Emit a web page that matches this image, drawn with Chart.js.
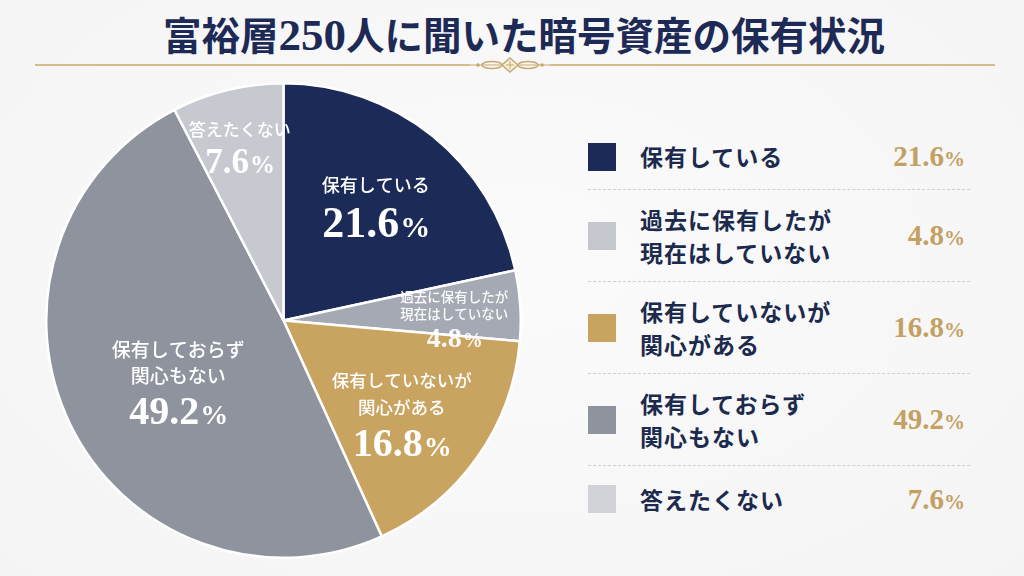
<!DOCTYPE html>
<html lang="ja">
<head>
<meta charset="utf-8">
<script src="https://cdn.jsdelivr.net/npm/chart.js@4"></script>
<style>
  html, body { margin: 0; padding: 0; }
  body {
    width: 1024px; height: 576px; overflow: hidden; position: relative;
    background: radial-gradient(ellipse at 50% 45%, #fbfbfb 0%, #f4f4f5 100%);
    font-family: "Noto Sans CJK JP", sans-serif;
  }
  #title {
    position: absolute; left: 12px; top: 8px; width: 1024px; text-align: center;
    font-size: 38.5px; font-weight: 700; color: #1c2a55; line-height: 50px;
  }
  #title .num { font-family: "Liberation Serif", serif; font-size: 45px; }
  #ornament { position: absolute; left: 0; top: 54px; }
  #pieBox { position: absolute; left: 45px; top: 82px; width: 477px; height: 477px; }
  #legend { position: absolute; left: 588px; top: 124px; width: 382px; }
  .row { display: flex; align-items: center; border-bottom: 1px dashed #cfcfd2; box-sizing: border-box; }
  .row:last-child { border-bottom: none; }
  .sw { width: 28px; height: 28px; flex: none; margin-right: 24px; }
  .lab { flex: 1; font-size: 23px; font-weight: 700; color: #1c2a4e; line-height: 33px; letter-spacing: 1px; }
  .val { font-family: "Liberation Serif", serif; font-weight: 700; color: #c4a062; font-size: 29px; margin-right: 5px; }
  .val small { font-size: 21px; }
</style>
</head>
<body>
<div id="title">富裕層<span class="num">250</span>人に聞いた暗号資産の保有状況</div>
<svg id="ornament" width="1024" height="22">
  <g stroke="#c9a86a" fill="none" stroke-width="1.5">
    <line x1="35" y1="11" x2="470" y2="11"/>
    <line x1="550" y1="11" x2="995" y2="11"/>
    <line x1="470" y1="11" x2="550" y2="11" stroke-width="1"/>
    <ellipse cx="492" cy="11" rx="10" ry="3.5"/>
    <ellipse cx="528" cy="11" rx="10" ry="3.5"/>
    <path d="M510 4 L518 11 L510 18 L502 11 Z" fill="#f6f0e2"/>
    <line x1="510" y1="7" x2="510" y2="15" stroke-width="1"/>
    <line x1="506" y1="11" x2="514" y2="11" stroke-width="1"/>
  </g>
  <circle cx="478" cy="11" r="1.8" fill="#c9a86a"/>
  <circle cx="542" cy="11" r="1.8" fill="#c9a86a"/>
</svg>
<div id="pieBox"><canvas id="myChart"></canvas></div>
<div id="legend"></div>
<script>
// data
var categories = [
  ['保有している'],
  ['過去に保有したが', '現在はしていない'],
  ['保有していないが', '関心がある'],
  ['保有しておらず', '関心もない'],
  ['答えたくない']
];
var shares = [21.6, 4.8, 16.8, 49.2, 7.6];

var sliceColors = ['#1b2a57', '#a4a9b3', '#c9a461', '#8e939e', '#c6c9cf'];
var swatchColors = ['#1b2a57', '#c4c7cd', '#c9a461', '#8e939e', '#d0d2d7'];

// in-slice label styling:
// [radius factor, dx, dy, label px, line height, value px, % px, alpha]
var labelStyle = [
  [0.62, 0, 3, 18, 26, 44, 30, 1],
  [0.73, -2, 11, 13.5, 17, 28, 20, 0.95],
  [0.61, 0, 12, 17.5, 27, 40, 28, 1],
  [0.55, 12, 7, 19, 26, 40, 28, 1],
  [0.78, 0, 8, 17, 26, 35, 25, 1]
];

// legend
var legend = document.getElementById('legend');
categories.forEach(function (lines, i) {
  var row = document.createElement('div');
  row.className = 'row';
  row.style.height = (lines.length > 1 ? 92 : 66) + 'px';
  var v = shares[i].toFixed(1);
  row.innerHTML = '<div class="sw" style="background:' + swatchColors[i] + '"></div>' +
    '<div class="lab">' + lines.join('<br>') + '</div>' +
    '<div class="val">' + v + '<small>%</small></div>';
  legend.appendChild(row);
});

var sliceLabels = {
  id: 'sliceLabels',
  afterDatasetsDraw: function (chart) {
    var ctx = chart.ctx;
    var arcs = chart.getDatasetMeta(0).data;
    arcs.forEach(function (arc, i) {
      var st = labelStyle[i];
      var mid = (arc.startAngle + arc.endAngle) / 2;
      var r = arc.outerRadius * st[0];
      var px = arc.x + Math.cos(mid) * r + st[1];
      var py = arc.y + Math.sin(mid) * r + st[2];
      var lines = categories[i];
      var lh = st[4];
      var vh = st[5] * 1.1;
      var total = lines.length * lh + vh;
      var y = py - total / 2;
      ctx.save();
      ctx.fillStyle = 'rgba(255,255,255,' + st[7] + ')';
      ctx.textAlign = 'center';
      ctx.textBaseline = 'middle';
      ctx.font = '500 ' + st[3] + 'px "Noto Sans CJK JP"';
      lines.forEach(function (t, k) {
        ctx.fillText(t, px, y + lh * k + lh / 2);
      });
      var num = shares[i].toFixed(1);
      ctx.font = 'bold ' + st[5] + 'px "Liberation Serif"';
      var nw = ctx.measureText(num).width;
      ctx.font = 'bold ' + st[6] + 'px "Liberation Serif"';
      var pw = ctx.measureText('%').width;
      var x0 = px - (nw + pw) / 2;
      var vy = y + lines.length * lh + vh / 2;
      ctx.textAlign = 'left';
      ctx.textBaseline = 'alphabetic';
      ctx.font = 'bold ' + st[5] + 'px "Liberation Serif"';
      ctx.fillText(num, x0, vy + st[5] * 0.33);
      ctx.font = 'bold ' + st[6] + 'px "Liberation Serif"';
      ctx.fillText('%', x0 + nw + 1, vy + st[5] * 0.33);
      ctx.restore();
    });
  }
};

var ctx = document.getElementById('myChart').getContext('2d');
var myChart = new Chart(ctx, {
  type: 'pie',
  data: {
    labels: categories.map(function (l) { return l.join(''); }),
    datasets: [{
      data: shares,
      backgroundColor: sliceColors,
      borderColor: '#ffffff',
      borderWidth: 2.5
    }]
  },
  options: {
    responsive: true,
    maintainAspectRatio: false,
    animation: false,
    layout: { padding: 0 },
    plugins: {
      legend: { display: false },
      tooltip: { enabled: false }
    }
  },
  plugins: [sliceLabels]
});
</script>
</body>
</html>
